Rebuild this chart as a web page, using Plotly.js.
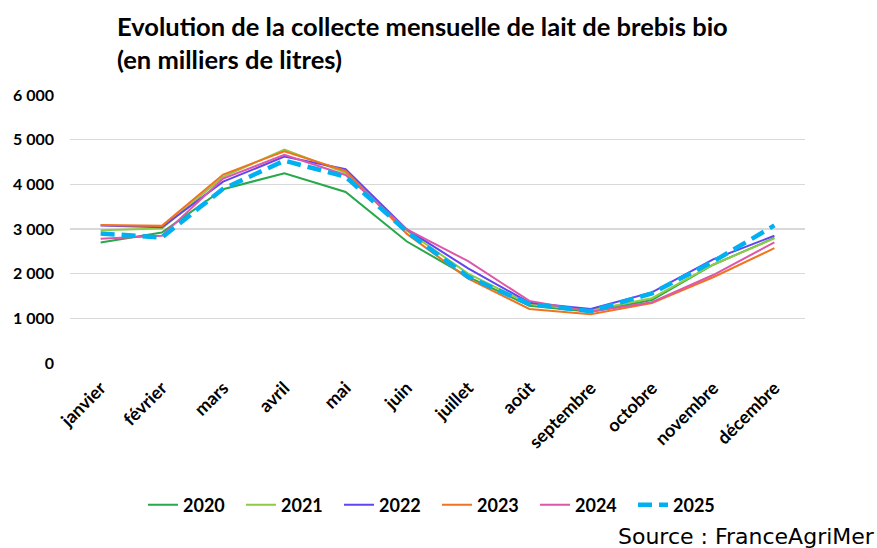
<!DOCTYPE html>
<html><head><meta charset="utf-8">
<script src="https://cdn.plot.ly/plotly-3.0.1.min.js"></script>
<style>html,body{margin:0;padding:0;background:#fff}#chart{width:877px;height:548px}</style>
</head><body><div id="chart"></div>
<script>
const months = ["janvier","février","mars","avril","mai","juin","juillet","août","septembre","octobre","novembre","décembre"];
const y2020 = [2700, 2920, 3890, 4250, 3830, 2720, 1930, 1280, 1150, 1410, 2200, 2800];
const y2021 = [2970, 3010, 4170, 4780, 4260, 2960, 2000, 1320, 1180, 1450, 2200, 2790];
const y2022 = [3080, 3040, 4060, 4620, 4340, 2990, 2120, 1350, 1210, 1580, 2320, 2850];
const y2023 = [3090, 3070, 4220, 4740, 4300, 2890, 1890, 1210, 1090, 1340, 1920, 2570];
const y2024 = [2780, 2850, 4130, 4660, 4210, 2990, 2280, 1390, 1150, 1360, 1970, 2700];
const y2025 = [2900, 2810, 3900, 4530, 4170, 2940, 1930, 1320, 1160, 1560, 2270, 3080];

const series = [
  {name:"2020", y:y2020, color:"#27A84A", width:2, dash:"solid"},
  {name:"2021", y:y2021, color:"#8DCB45", width:2, dash:"solid"},
  {name:"2022", y:y2022, color:"#6244F0", width:2, dash:"solid"},
  {name:"2023", y:y2023, color:"#F0731E", width:2, dash:"solid"},
  {name:"2024", y:y2024, color:"#DD58A8", width:2, dash:"solid"},
  {name:"2025", y:y2025, color:"#00B0F0", width:4.5, dash:"14px,7px"}
];
const traces = series.map(s => ({
  type:"scatter", mode:"lines", name:s.name, x:months, y:s.y,
  line:{color:s.color, width:s.width, dash:s.dash}
}));
const layout = {
  width:877, height:548,
  margin:{l:70, r:72, t:95, b:185},
  paper_bgcolor:"#fff", plot_bgcolor:"#fff",
  separators:", ",
  font:{family:"Lato, 'Open Sans', sans-serif", color:"#000"},
  title:{text:"<b>Evolution de la collecte mensuelle de lait de brebis bio<br>(en milliers de litres)</b>",
    x:117/877, xanchor:"left", xref:"container", y:0.935, yanchor:"top", yref:"container",
    font:{family:"Lato, sans-serif", size:25.5, color:"#000"}},
  xaxis:{type:"category", range:[-0.5, 11.5], tickangle:-45, showgrid:false, showline:false, ticks:"", ticklabelstandoff:10,
    tickfont:{family:"Lato, sans-serif", size:18, color:"#000", weight:"bold"}},
  yaxis:{range:[0,6000], dtick:1000, tickformat:",d", showgrid:true, gridcolor:"#D9D9D9", gridwidth:1.5,
    zeroline:false, showline:false, ticks:"", ticklabelstandoff:15,
    tickfont:{family:"Lato, sans-serif", size:16, color:"#000", weight:"bold"}},
  showlegend:true,
  legend:{orientation:"h", x:(143-70)/735, xanchor:"left", y:-0.53, yanchor:"middle",
    entrywidth:53, entrywidthmode:"pixels",
    font:{family:"Lato, sans-serif", size:18, color:"#000", weight:"bold"}},
  annotations:[{text:"Source : FranceAgriMer", xref:"paper", yref:"paper", x:807/735, xanchor:"right",
    y:-0.649, yanchor:"middle", showarrow:false,
    font:{family:"'DejaVu Sans', sans-serif", size:22, color:"#000"}}]
};
Plotly.newPlot("chart", traces, layout, {displayModeBar:false, staticPlot:true});
</script></body></html>
